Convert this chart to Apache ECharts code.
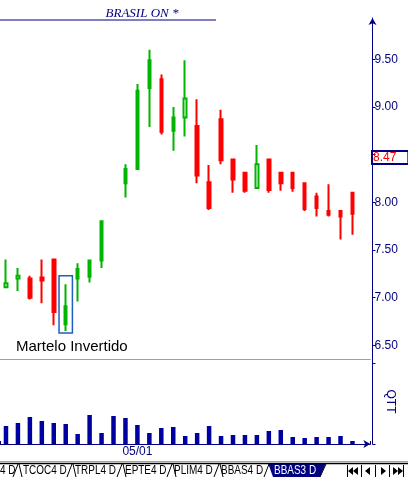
<!DOCTYPE html>
<html><head><meta charset="utf-8">
<script src="https://cdn.jsdelivr.net/npm/echarts@6/dist/echarts.min.js"></script>
<style>html,body{margin:0;padding:0;background:#fff}#c{width:408px;height:480px}</style>
</head><body><div id="c"></div>
<script>
// ---- data ----
const dateLabels = ['', '', '', '', '', '', '', '', '', '', '', '05/01', '', '', '', '', '', '', '', '', '', '', '', '', '', '', '', '', '', ''];
const openP  = [7.11, 7.20, 7.20, 7.21, 7.40, 6.72, 7.20, 7.22, 7.39, '-', 8.20, 8.35, 9.20, 9.29, 8.75, 8.89, 8.80, 8.21, 8.87, 8.45, 8.31, 8.15, 8.45, 8.31, 8.31, 8.20, 8.06, 7.91, 7.91, 8.10];
const closeP = [7.15, 7.23, 7.00, 7.18, 6.85, 6.91, 7.30, 7.39, 7.80, '-', 8.35, 9.17, 9.49, 8.74, 8.89, 9.09, 8.28, 7.94, 8.44, 8.24, 8.12, 8.40, 8.13, 8.20, 8.15, 7.93, 7.94, 7.87, 7.85, 7.88];
const lowP   = [7.11, 7.07, 6.98, 6.94, 6.71, 6.65, 6.96, 7.16, 7.31, '-', 8.05, 8.35, 8.79, 8.71, 8.54, 8.69, 8.20, 7.92, 8.40, 8.10, 8.10, 8.15, 8.10, 8.12, 8.11, 7.91, 7.85, 7.85, 7.61, 7.66];
const highP  = [7.40, 7.31, 7.23, 7.40, 7.40, 7.14, 7.36, 7.40, 7.80, '-', 8.40, 9.24, 9.60, 9.34, 9.00, 9.49, 9.08, 8.39, 8.97, 8.45, 8.31, 8.60, 8.45, 8.31, 8.31, 8.20, 8.10, 8.19, 7.91, 8.10];
const volume = [18, 21, 27, 23, 21, 20, 10, 29, 11, 28, 26, 19, 11, 16, 17, 8, 11, 18, 8, 9, 9, 9, 13, 14, 7, 6, 7, 7, 8, 3];
const priceTicks = [6.5, 7, 7.5, 8, 8.5, 9, 9.5];
const priceLabels = [6.5, 7, 7.5, 8, 9, 9.5];
const lastPrice = 8.47;
const titleText = 'BRASIL ON *';
const patternName = 'Martelo Invertido';
const patternIndex = 5;
const patternHigh = 7.23, patternLow = 6.63;
const tabs = ['4 D', 'TCOC4 D', 'TRPL4 D', 'EPTE4 D', 'PLIM4 D', 'BBAS4 D', 'BBAS3 D'];

// ---- build ----
const NAVY = '#000080';
const cats = dateLabels.map((d, i) => String(i)).concat(['pad']);
const candles = openP.map((o, i) => o === '-' ? '-' : [o, closeP[i], lowP[i], highP[i]]);
const FONT = '"Liberation Sans", Arial, sans-serif';

const chart = echarts.init(document.getElementById('c'), null, {renderer: 'canvas'});

const tabX = [0, 23, 75, 125, 174, 221, 274];
const tabGraphics = [];
tabGraphics.push({type: 'line', id: 'g1', shape: {x1: 0, y1: 461.5, x2: 408, y2: 461.5}, style: {stroke: '#a0a0a0', lineWidth: 1}});
tabGraphics.push({type: 'polygon', id: 'seltab', shape: {points: [[268, 463], [273, 477], [320, 477], [326, 463]]}, style: {fill: NAVY}});
tabGraphics.push({type: 'line', id: 'g2', shape: {x1: 0, y1: 463.5, x2: 408, y2: 463.5}, style: {stroke: '#000', lineWidth: 1.5}});
tabs.forEach((t, i) => {
  tabGraphics.push({type: 'text', id: 'tab' + i, x: tabX[i], y: 470.5, scaleX: 0.83,
    style: {text: t, font: '12px ' + FONT, fill: i === tabs.length - 1 ? '#fff' : '#000', textVerticalAlign: 'middle'}});
});
[13, 67, 117, 167, 214].forEach((x, i) => {
  tabGraphics.push({type: 'line', id: 'sr' + i, shape: {x1: x, y1: 477, x2: x + 5, y2: 464}, style: {stroke: '#000', lineWidth: 1}});
  tabGraphics.push({type: 'line', id: 'sl' + i, shape: {x1: x + 6, y1: 464, x2: x + 9, y2: 477}, style: {stroke: '#000', lineWidth: 1}});
});
tabGraphics.push({type: 'line', id: 'srb', shape: {x1: 264, y1: 477, x2: 269, y2: 464}, style: {stroke: '#000', lineWidth: 1}});
tabGraphics.push({type: 'line', id: 'sre', shape: {x1: 320, y1: 477, x2: 326, y2: 464}, style: {stroke: '#000', lineWidth: 1}});
// navigation buttons
const tri = (cx, cy, dir) => dir < 0 ? [[cx - 3, cy], [cx + 2, cy - 4], [cx + 2, cy + 4]] : [[cx + 3, cy], [cx - 2, cy - 4], [cx - 2, cy + 4]];
const navCy = 471;
[[351, -1], [356, -1], [368, -1], [383, 1], [395, 1], [400, 1]].forEach((p, i) => {
  tabGraphics.push({type: 'polygon', id: 'nav' + i, shape: {points: tri(p[0], navCy, p[1])}, style: {fill: '#000'}});
});
[347.5, 361.5, 375.5, 389.5, 403.5].forEach((x, i) => {
  tabGraphics.push({type: 'line', id: 'nb' + i, shape: {x1: x, y1: 465, x2: x, y2: 477}, style: {stroke: '#000', lineWidth: 1}});
});

const option = {
  animation: false,
  backgroundColor: '#fff',
  grid: [
    {left: -1.6, right: 37.6, top: 18, height: 341},
    {left: -1.6, right: 37.6, top: 359, height: 85}
  ],
  xAxis: [
    {type: 'category', gridIndex: 0, data: cats, boundaryGap: true,
      axisLine: {lineStyle: {color: '#a0a0a0', width: 1}}, axisTick: {show: false}, axisLabel: {show: false}},
    {type: 'category', gridIndex: 1, data: cats, boundaryGap: true,
      axisLine: {lineStyle: {color: NAVY, width: 1}, symbol: ['none', 'arrow'], symbolSize: [6, 7]},
      axisTick: {show: true, inside: true, length: 3, lineStyle: {color: NAVY},
        interval: (i) => !!dateLabels[i]},
      axisLabel: {interval: (i) => !!dateLabels[i], formatter: (v) => dateLabels[+v] || '',
        color: NAVY, fontFamily: FONT, fontSize: 12, margin: 2}}
  ],
  yAxis: [
    {type: 'value', gridIndex: 0, position: 'right', offset: 2.1,
      min: 6.5 - (359 - 345.3) / 95.33, max: 9.5 + (59.3 - 18) / 95.33,
      splitLine: {show: false},
      axisLine: {show: true, lineStyle: {color: NAVY, width: 1}, symbol: ['none', 'arrow'], symbolSize: [6, 7]},
      axisTick: {show: true, length: 3, lineStyle: {color: NAVY}, customValues: priceTicks},
      axisLabel: {customValues: priceLabels, formatter: (v) => v.toFixed(2), color: NAVY,
        fontFamily: FONT, fontSize: 12, margin: 2}},
    {type: 'value', gridIndex: 1, position: 'right', offset: 2.1, min: 0, max: 85,
      splitLine: {show: false},
      axisLine: {show: true, lineStyle: {color: NAVY, width: 1}},
      axisTick: {show: true, length: 3, lineStyle: {color: NAVY}, customValues: [0, 81]},
      axisLabel: {show: false},
      name: 'QTT', nameLocation: 'middle', nameRotate: -90, nameGap: 12,
      nameTextStyle: {color: NAVY, fontFamily: FONT, fontSize: 12}}
  ],
  series: [
    {type: 'candlestick', xAxisIndex: 0, yAxisIndex: 0, data: candles, barWidth: 3,
      itemStyle: {color: '#ffffff', color0: '#ff0000', borderColor: '#00b400', borderColor0: '#ff0000', borderWidth: 2},
      markLine: {silent: true, symbol: 'none', animation: false,
        lineStyle: {color: 'rgba(0,0,0,0)', width: 1, type: 'solid'},
        data: [{yAxis: lastPrice}],
        label: {show: true, position: 'end', distance: 1.6, formatter: () => lastPrice.toFixed(2),
          color: '#ff0000', fontFamily: FONT, fontSize: 12, borderColor: NAVY, borderWidth: 1,
          backgroundColor: 'rgba(255,255,255,0)', padding: [1, 12, 0, 1], lineHeight: 12}}},
    {type: 'bar', xAxisIndex: 1, yAxisIndex: 1, data: volume, barWidth: 4.5,
      itemStyle: {color: '#0000a0'}}
  ],
  graphic: [
    {type: 'text', id: 'title', x: 142, y: 13.5,
      style: {text: titleText, font: 'italic 13px "Liberation Serif", serif', fill: NAVY, textAlign: 'center', textVerticalAlign: 'middle'}},
    {type: 'line', id: 'tline', shape: {x1: 0, y1: 20, x2: 216, y2: 20}, style: {stroke: NAVY, lineWidth: 1}},
    {type: 'text', id: 'pname', x: 16, y: 346.5,
      style: {text: patternName, font: '15px ' + FONT, fill: '#000', textVerticalAlign: 'middle'}}
  ].concat(tabGraphics)
};
chart.setOption(option);

const p1 = chart.convertToPixel({gridIndex: 0}, [patternIndex, patternHigh]);
const p2 = chart.convertToPixel({gridIndex: 0}, [patternIndex, patternLow]);
const p3 = chart.convertToPixel({gridIndex: 0}, [patternIndex + 1, patternLow]);
const band = p3[0] - p1[0];
chart.setOption({graphic: [{type: 'rect', id: 'prect',
  shape: {x: p1[0] - band * 0.56, y: p1[1], width: band * 1.12, height: p2[1] - p1[1]},
  style: {fill: 'none', stroke: '#1f5fbf', lineWidth: 1.5}}]});
</script></body></html>
